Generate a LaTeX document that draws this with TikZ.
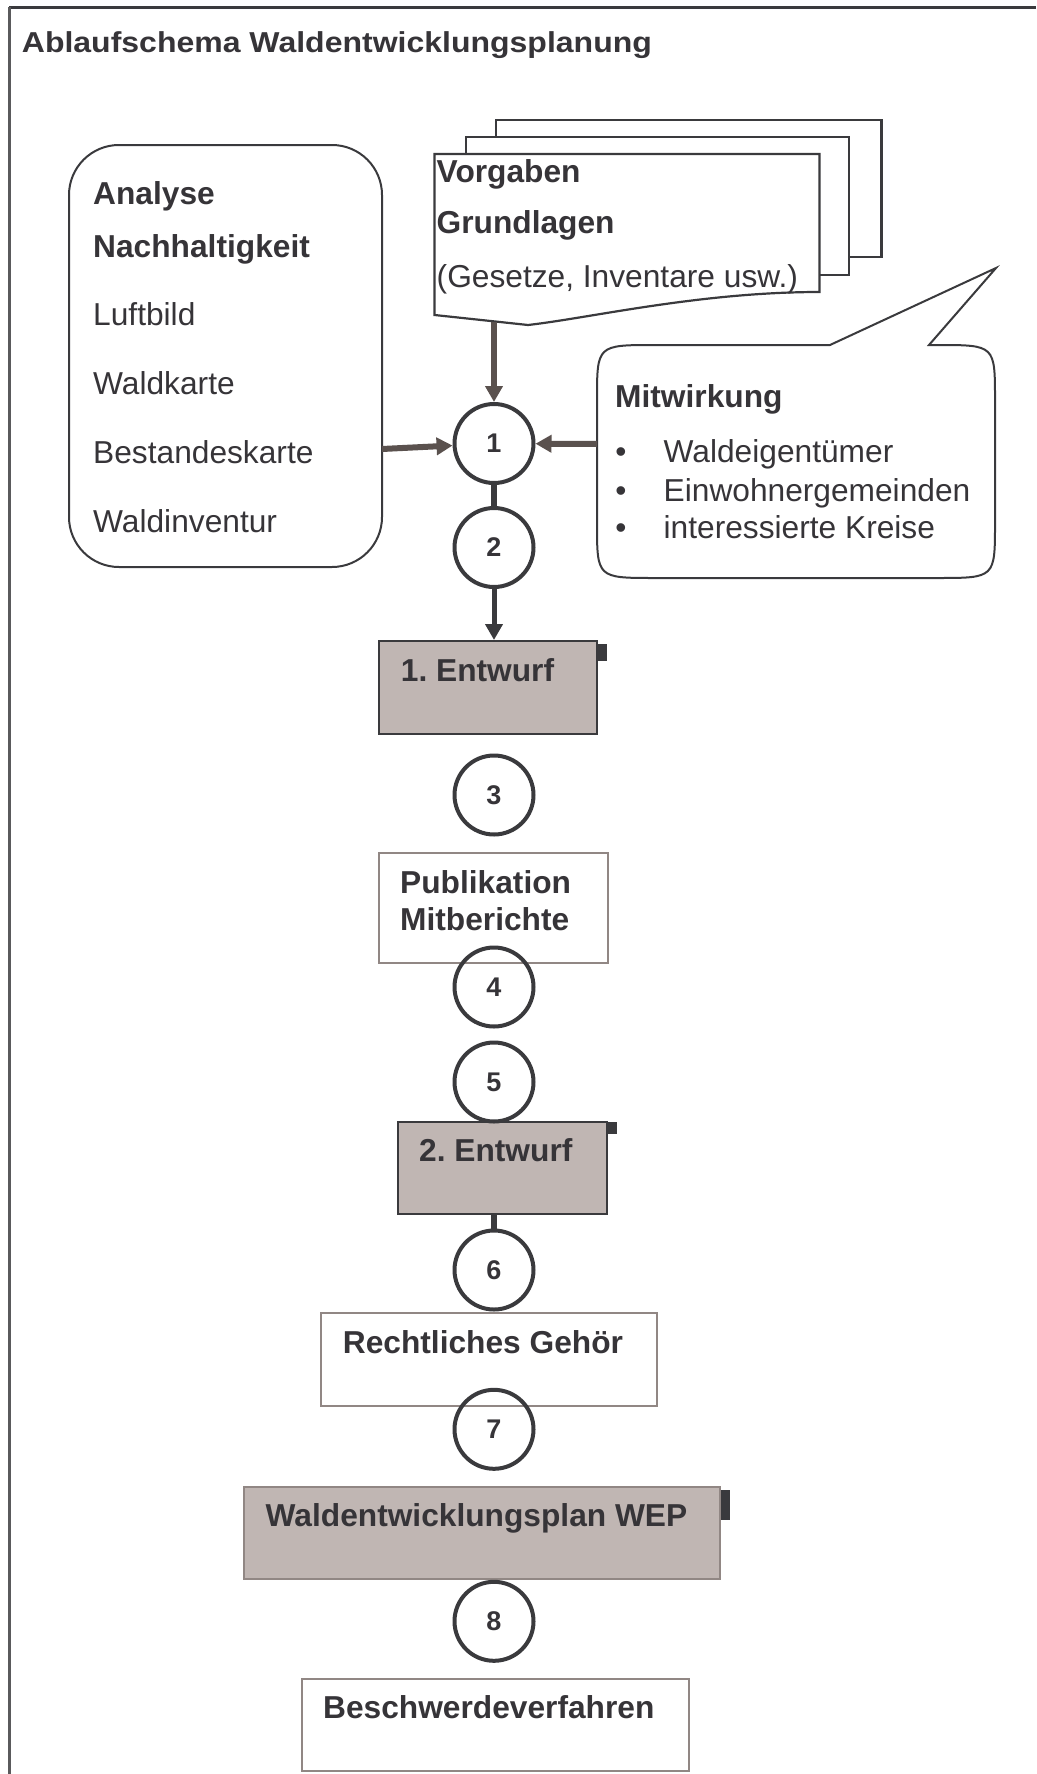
\documentclass[tikz,border=0pt]{standalone}
\usepackage{fontspec}
\setmainfont{Liberation Sans}
\usetikzlibrary{arrows.meta}
\definecolor{txt}{HTML}{363438}
\definecolor{dk}{HTML}{3A3A3D}
\definecolor{arrowc}{HTML}{5A514E}
\definecolor{boxfill}{HTML}{C0B6B3}
\definecolor{boxline}{HTML}{918784}
\definecolor{framel}{HTML}{5A5A5C}
\tikzset{
  lbl/.style={anchor=base west, inner sep=0pt, text=txt, font=\fontsize{31.7}{38}\selectfont},
  blbl/.style={anchor=base west, inner sep=0pt, text=txt, font=\fontsize{31.7}{38}\selectfont\bfseries},
  bul/.style={anchor=base, inner sep=0pt, text=txt, font=\fontsize{31.7}{38}\selectfont},
  circ/.style={circle, draw=dk, line width=4pt, minimum size=79pt, inner sep=0pt, text=txt, font=\fontsize{27}{30}\selectfont\bfseries},
  darkbox/.style={rectangle, draw=dk, line width=2pt, fill=boxfill, inner sep=0pt},
  wepbox/.style={rectangle, draw=boxline, line width=2pt, fill=boxfill, inner sep=0pt},
  lightbox/.style={rectangle, draw=boxline, line width=2pt, inner sep=0pt},
  tabmark/.style={rectangle, fill=dk, draw=none, inner sep=0pt, anchor=north west},
  sheet/.style={draw=dk, line width=2.2pt, fill=white},
  inarrow/.style={draw=arrowc, line width=6pt, -{Triangle[length=16pt,width=17pt]}},
  dkarrow/.style={draw=dk, line width=5pt, -{Triangle[length=16pt,width=17pt]}},
  dkline/.style={draw=dk, line width=6pt},
}
\begin{document}
\frenchspacing
\begin{tikzpicture}[x=1pt,y=-1pt]
\useasboundingbox (0,0) rectangle (1036,1774);
% frame
\draw[dk, line width=2.5pt] (9.3,7.3) -- (1036,7.3);
\draw[framel, line width=2.5pt] (9.3,7.3) -- (9.3,1774);
% title
\node[anchor=base west, inner sep=0pt, text=txt, font=\fontsize{32}{38}\selectfont\bfseries] (title) at (21.7,53) {\scalebox{1}[0.9]{Ablaufschema Waldentwicklungsplanung}};

% Analyse box
\node[draw=dk, line width=2pt, rounded corners=50pt, minimum width=313pt, minimum height=422pt, inner sep=0pt] (ana) at (225.5,356) {};
\node[blbl] (a1) at (93,204) {Analyse};
\node[blbl] (a2) at (93,257) {Nachhaltigkeit};
\node[lbl] (a3) at (93,325) {Luftbild};
\node[lbl] (a4) at (93,394) {Waldkarte};
\node[lbl] (a5) at (93,463) {Bestandeskarte};
\node[lbl] (a6) at (93,532) {Waldinventur};
\coordinate (anaout) at (382,449);

% Vorgaben stack
\draw[sheet] (496,120) rectangle (881.5,257);
\draw[sheet] (466,137) rectangle (849,275);
\draw[sheet] (434.5,154) -- (819.5,154) -- (819.5,292)
  .. controls (700,292) and (590,318) .. (528,325) -- (434.5,315) -- cycle;
\node[blbl] (v1) at (436.5,182) {Vorgaben};
\node[blbl] (v2) at (436.5,233) {Grundlagen};
\node[lbl] (v3) at (436.5,287) {(Gesetze, Inventare usw.)};
\coordinate (vgout) at (494,322);

% Mitwirkung callout
\draw[draw=dk, line width=2pt] (655,345) -- (830,345) -- (996,268) -- (929,345) -- (937,345)
  .. controls (995,345) .. (995,400) -- (995,523)
  .. controls (995,578) .. (937,578) -- (655,578)
  .. controls (597,578) .. (597,523) -- (597,400)
  .. controls (597,345) .. (655,345) -- cycle;
\node[blbl] (m0) at (615,407) {Mitwirkung};
\node[bul] (b1) at (621,462) {•};
\node[bul] (b2) at (621,501) {•};
\node[bul] (b3) at (621,538) {•};
\node[lbl] (m1) at (663.5,462) {Waldeigentümer};
\node[lbl] (m2) at (663.5,501) {Einwohnergemeinden};
\node[lbl] (m3) at (663.5,538) {interessierte Kreise};
\coordinate (mwout) at (597,444);

% boxes
\node[darkbox, minimum width=218pt, minimum height=93pt] (e1) at (487.7,687.5) {};
\node[tabmark, minimum width=9.3pt, minimum height=17pt] (t1) at (597.7,644) {};
\node[blbl] (e1t) at (400.7,681.7) {1. Entwurf};

\node[lightbox, minimum width=229pt, minimum height=110pt] (pub) at (493.2,907.9) {};
\node[blbl] (p1) at (400,893) {Publikation};
\node[blbl] (p2) at (400,930) {Mitberichte};

\node[darkbox, minimum width=209.3pt, minimum height=92.3pt] (e2) at (502.35,1167.85) {};
\node[tabmark, minimum width=8.3pt, minimum height=12pt] (t2) at (608,1122) {};
\node[blbl] (e2t) at (419,1161.7) {2. Entwurf};

\node[lightbox, minimum width=336.3pt, minimum height=92.7pt] (rg) at (489.15,1359.65) {};
\node[blbl] (rgt) at (342.7,1353) {Rechtliches Gehör};

\node[wepbox, minimum width=476.2pt, minimum height=92.6pt] (wep) at (481.9,1533) {};
\node[tabmark, minimum width=9pt, minimum height=30pt] (t3) at (721,1490) {};
\node[blbl] (wept) at (265.5,1526.7) {Waldentwicklungsplan WEP};

\node[lightbox, minimum width=387.5pt, minimum height=92pt] (bv) at (495.25,1725) {};
\node[blbl] (bvt) at (323,1718.3) {Beschwerdeverfahren};

% circles
\node[circ] (c1) at (494,443.5) {1};
\node[circ] (c2) at (494,547.5) {2};
\node[circ] (c3) at (494,795) {3};
\node[circ] (c4) at (494,987) {4};
\node[circ] (c5) at (494,1082) {5};
\node[circ] (c6) at (494,1270) {6};
\node[circ] (c7) at (494,1429.3) {7};
\node[circ] (c8) at (494,1621.3) {8};

% connectors
\draw[inarrow] (vgout) -- (c1);
\draw[inarrow] (anaout) -- (c1);
\draw[inarrow] (mwout) -- (c1);
\draw[dkline] (c1) -- (c2);
\draw[dkarrow] (c2) -- (c2 |- e1.north);
\draw[dkline] (e2.south -| c6) -- (c6);
\end{tikzpicture}
\end{document}
